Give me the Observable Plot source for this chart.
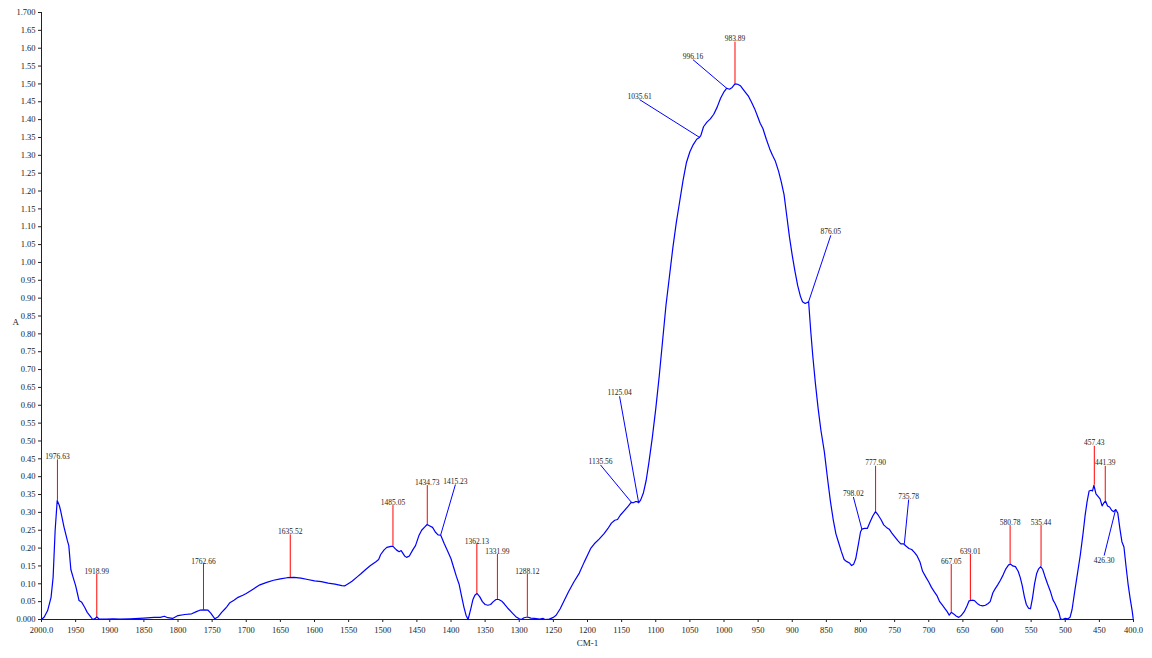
<!DOCTYPE html>
<html><head><meta charset="utf-8">
<script src="https://cdn.jsdelivr.net/npm/d3@7"></script>
<script src="https://cdn.jsdelivr.net/npm/@observablehq/plot@0.6"></script>
<style>body{margin:0;background:#fff;} svg{display:block}</style>
</head><body><div id="chart"></div>
<script>
// Spectrum (wavenumber cm-1, absorbance)
const wavenumber = [2000,1996,1991,1986,1983,1980,1977,1974,1972,1967,1962,1960,1957,1954,1950,1947,1945,1941,1937,1933,1929,1925,1921,1919,1916,1905,1895,1885,1870,1850,1835,1826,1820,1815,1808,1800,1790,1780,1773,1768,1762,1756,1752,1746,1741,1736,1731,1728,1724,1718,1712,1705,1700,1690,1680,1670,1660,1650,1640,1630,1620,1610,1600,1590,1580,1570,1560,1556,1550,1545,1537,1532,1525,1518,1510,1506,1503,1498,1494,1488,1485,1480,1476,1473,1468,1465,1461,1456,1452,1447,1443,1438,1435,1431,1427,1423,1419,1415,1410,1405,1400,1396,1392,1388,1385,1381,1378,1375,1371,1368,1365,1362,1358,1354,1350,1346,1342,1338,1334,1330,1326,1322,1316,1310,1305,1300,1297,1293,1288,1283,1278,1270,1265,1262,1256,1250,1246,1240,1235,1228,1220,1212,1205,1200,1195,1190,1183,1176,1170,1165,1160,1156,1152,1146,1140,1136,1133,1130,1127,1125,1122,1118,1114,1110,1105,1100,1095,1090,1085,1080,1075,1070,1065,1060,1055,1050,1045,1040,1036,1034,1030,1025,1020,1015,1010,1005,1000,996,992,988,984,980,976,972,968,964,960,955,951,947,943,938,933,929,925,920,916,912,908,904,900,896,892,888,885,881,878,876,873,870,866,862,858,853,848,844,840,836,832,828,824,820,816,813,810,807,803,800,798,794,790,786,782,778,774,770,766,762,758,754,750,745,741,737,733,729,725,721,717,713,709,704,700,696,692,688,684,680,676,673,670,667,663,660,656,652,648,644,641,637,633,629,625,621,617,613,610,606,603,599,595,591,587,583,580,577,573,569,566,563,560,557,554,551,548,545,542,539,536,533,530,526,522,518,515,512,509,507,504,500,496,493,490,486,482,478,474,471,468,465,462,460,458,455,452,449,446,444,441,438,435,432,429,426,423,420,417,414,411,408,405,402,400.5];
const absorbance = [0.000,0.007,0.025,0.062,0.118,0.25,0.333,0.320,0.305,0.259,0.22,0.207,0.14,0.12,0.095,0.07,0.053,0.048,0.035,0.02,0.01,0.000,0.003,0.007,0.002,0.001,0.002,0.001,0.002,0.004,0.006,0.006,0.009,0.005,0.003,0.011,0.014,0.016,0.022,0.026,0.027,0.026,0.018,0.002,0.008,0.02,0.03,0.037,0.047,0.054,0.062,0.068,0.073,0.085,0.097,0.104,0.110,0.114,0.117,0.118,0.116,0.112,0.108,0.106,0.102,0.099,0.095,0.094,0.101,0.107,0.12,0.128,0.14,0.151,0.162,0.168,0.182,0.195,0.202,0.205,0.205,0.195,0.19,0.193,0.178,0.174,0.178,0.195,0.207,0.235,0.25,0.26,0.266,0.262,0.258,0.245,0.237,0.236,0.213,0.192,0.17,0.145,0.12,0.098,0.07,0.034,0.012,0.000,0.03,0.055,0.068,0.073,0.064,0.05,0.042,0.04,0.042,0.05,0.056,0.056,0.052,0.044,0.03,0.018,0.008,0.002,0.000,0.005,0.007,0.004,0.003,0.001,0.003,0.000,0.001,0.006,0.012,0.03,0.05,0.077,0.105,0.13,0.16,0.18,0.2,0.212,0.225,0.24,0.255,0.27,0.278,0.28,0.292,0.305,0.318,0.328,0.327,0.33,0.33,0.327,0.335,0.355,0.39,0.44,0.51,0.59,0.68,0.78,0.88,0.96,1.04,1.11,1.17,1.23,1.28,1.31,1.33,1.345,1.35,1.355,1.38,1.393,1.402,1.415,1.435,1.46,1.478,1.488,1.485,1.49,1.5,1.499,1.495,1.485,1.475,1.465,1.45,1.43,1.41,1.39,1.375,1.345,1.318,1.3,1.285,1.255,1.225,1.19,1.13,1.07,1.02,0.975,0.935,0.905,0.89,0.885,0.888,0.89,0.81,0.74,0.66,0.59,0.53,0.47,0.39,0.33,0.28,0.24,0.215,0.19,0.168,0.162,0.158,0.151,0.155,0.17,0.212,0.245,0.253,0.255,0.255,0.273,0.29,0.302,0.292,0.28,0.265,0.258,0.253,0.242,0.232,0.22,0.212,0.212,0.205,0.199,0.196,0.188,0.178,0.162,0.135,0.118,0.105,0.09,0.078,0.067,0.05,0.04,0.03,0.022,0.012,0.02,0.015,0.01,0.006,0.012,0.022,0.038,0.052,0.054,0.053,0.045,0.04,0.038,0.04,0.045,0.05,0.075,0.085,0.097,0.11,0.125,0.142,0.153,0.155,0.15,0.148,0.135,0.118,0.095,0.065,0.042,0.032,0.03,0.06,0.1,0.128,0.142,0.148,0.14,0.122,0.1,0.08,0.055,0.045,0.032,0.018,0.002,0.000,0.003,0.002,0.006,0.028,0.08,0.13,0.18,0.24,0.29,0.33,0.36,0.362,0.36,0.376,0.352,0.345,0.338,0.318,0.325,0.332,0.318,0.315,0.306,0.302,0.308,0.298,0.255,0.218,0.203,0.15,0.1,0.06,0.025,0.003];

// Peak labels drawn with vertical red markers
const redLabels = ["1976.63","1918.99","1762.66","1635.52","1485.05","1434.73","1362.13","1331.99","1288.12","983.89","777.90","667.05","639.01","580.78","535.44","457.43","441.39"];
const redPeakX = [1976.63,1918.99,1762.66,1635.52,1485.05,1434.73,1362.13,1331.99,1288.12,983.89,777.90,667.05,639.01,580.78,535.44,457.43,441.39];
const redPeakY = [0.333,0.005,0.027,0.117,0.205,0.265,0.073,0.056,0.007,1.50,0.302,0.02,0.053,0.155,0.148,0.376,0.332];
const redTopY = [0.447,0.126,0.154,0.237,0.319,0.375,0.21,0.182,0.126,1.617,0.429,0.154,0.182,0.263,0.263,0.485,0.429];

// Peak labels drawn with slanted blue leaders
const blueLabels = ["1415.23","1135.56","1125.04","1035.61","996.16","876.05","798.02","735.78","426.30"];
const bluePeakX = [1415.23,1135.56,1125.04,1035.61,996.16,876.05,798.02,735.78,426.30];
const bluePeakY = [0.236,0.328,0.327,1.35,1.488,0.89,0.253,0.212,0.307];
const blueLabelX = [1393.5,1181,1153,1123.7,1045.5,843.5,810.4,729.4,443];
const blueLabelY = [0.378,0.433,0.625,1.456,1.568,1.076,0.343,0.336,0.179];
const blueBelow = [false,false,false,false,false,false,false,false,true];

const xTicks = d3.range(2000, 399, -50);
const yTicks = d3.range(0, 35).map(i => +(i * 0.05).toFixed(2));

const spectrum = wavenumber.map((w, i) => ({w, a: absorbance[i]}));
const reds = redLabels.map((t, i) => ({t, x: redPeakX[i], y1: redPeakY[i], y2: redTopY[i]}));
const blues = blueLabels.map((t, i) => ({t, x1: bluePeakX[i], y1: bluePeakY[i], x2: blueLabelX[i], y2: blueLabelY[i], below: blueBelow[i]}));

const serif = "'Liberation Serif', 'Times New Roman', serif";

const chart = Plot.plot({
  width: 1152,
  height: 658,
  marginLeft: 41,
  marginRight: 19,
  marginTop: 12,
  marginBottom: 39,
  style: {fontFamily: serif, fontSize: "8.5px", color: "#222", background: "#fff"},
  x: {domain: [2000, 400]},
  y: {domain: [0, 1.7]},
  marks: [
    Plot.axisY({ticks: yTicks, tickSize: 3, tickPadding: 3, label: null,
      tickFormat: d => (d === 0 || Math.abs(d - 1.7) < 1e-9) ? d.toFixed(3) : d.toFixed(2)}),
    Plot.axisX({ticks: xTicks, tickSize: 3, tickPadding: 4, label: null,
      tickFormat: d => (d === 2000 || d === 400) ? d.toFixed(1) : String(d)}),
    Plot.ruleX([2000], {y1: 0, y2: 1.7, stroke: "#222"}),
    Plot.ruleY([0], {x1: 2000, x2: 400, stroke: "#222"}),
    Plot.ruleX(reds, {x: "x", y1: "y1", y2: "y2", stroke: "#ff0000", strokeWidth: 1}),
    Plot.link(blues, {x1: "x1", y1: "y1", x2: "x2", y2: "y2", stroke: "#0000ff", strokeWidth: 1}),
    Plot.line(spectrum, {x: "w", y: "a", stroke: "#0000ff", strokeWidth: 1.2}),
    Plot.text(reds, {x: "x", y: "y2", text: "t", lineAnchor: "bottom", dy: -1, fontSize: 7.5, fill: "#222"}),
    Plot.text(blues.filter(d => !d.below), {x: "x2", y: "y2", text: "t", lineAnchor: "bottom", dy: -1, fontSize: 7.5, fill: "#222"}),
    Plot.text(blues.filter(d => d.below), {x: "x2", y: "y2", text: "t", lineAnchor: "top", dy: 2, fontSize: 7.5, fill: "#222"}),
    Plot.text(["A"], {frameAnchor: "left", dx: -29, dy: 6, fontSize: 9, fill: "#222"}),
    Plot.text(["CM-1"], {frameAnchor: "bottom", dy: 26, fontSize: 9, fill: "#222"})
  ]
});
document.getElementById("chart").append(chart);
</script>
</body></html>
